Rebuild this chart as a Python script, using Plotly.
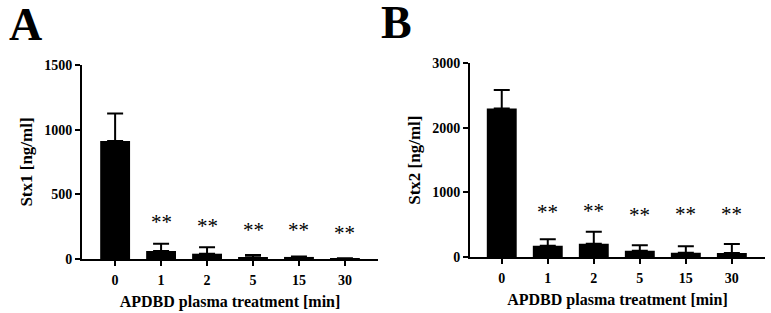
import plotly.graph_objects as go

categories = ["0", "1", "2", "5", "15", "30"]
stx1_mean = [912, 62, 41, 13, 16, 3]
stx1_sd = [214, 56, 49, 18, 4, 3]
stx1_sig = ["", "**", "**", "**", "**", "**"]
stx1_sig_y = [0, 300, 270, 240, 237, 215]

stx2_mean = [2300, 175, 206, 98, 67, 62]
stx2_sd = [286, 99, 186, 83, 98, 139]
stx2_sig = ["", "**", "**", "**", "**", "**"]
stx2_sig_y = [0, 728, 740, 680, 690, 690]

FONT = "Liberation Serif, Times New Roman, serif"
fig = go.Figure()

def add_panel(mean, sd, xa, ya):
    fig.add_trace(go.Bar(
        x=categories, y=mean, xaxis=xa, yaxis=ya, width=0.65,
        marker=dict(color="black", line=dict(width=0)),
        error_y=dict(type="data", symmetric=False, array=sd,
                     arrayminus=[0] * len(sd), color="black",
                     thickness=2, width=8),
        showlegend=False))

add_panel(stx1_mean, stx1_sd, "x", "y")
add_panel(stx2_mean, stx2_sd, "x2", "y2")

ax_common = dict(showline=True, linecolor="black", linewidth=2,
                 ticks="outside", ticklen=5, tickwidth=2, tickcolor="black",
                 showgrid=False, zeroline=False, automargin=False,
                 tickfont=dict(family=FONT, size=14, color="black", weight="bold"))

xt = dict(family=FONT, size=16, color="black", weight="bold")
yt = dict(family=FONT, size=17, color="black", weight="bold")

fig.update_layout(
    width=771, height=313, margin=dict(l=0, r=0, t=0, b=0, autoexpand=False),
    plot_bgcolor="white", paper_bgcolor="white",
    xaxis=dict(domain=[0.1064, 0.4903], type="category", range=[-0.72, 5.72],
               ticklabelstandoff=2,
               title=dict(text="APDBD plasma treatment [min]", standoff=9, font=xt),
               anchor="y", **ax_common),
    yaxis=dict(domain=[0.1725, 0.7923], range=[0, 1500], tickvals=[0, 500, 1000, 1500],
               title=dict(text="Stx1 [ng/ml]", standoff=7, font=yt),
               anchor="x", **ax_common),
    xaxis2=dict(domain=[0.6096, 0.9922], type="category", range=[-0.69, 5.72],
                ticklabelstandoff=2,
                title=dict(text="APDBD plasma treatment [min]", standoff=9, font=xt),
                anchor="y2", **ax_common),
    yaxis2=dict(domain=[0.1789, 0.7977], range=[0, 3000], tickvals=[0, 1000, 2000, 3000],
                title=dict(text="Stx2 [ng/ml]", standoff=7, font=yt),
                anchor="x2", **ax_common),
)

for sig, sy, xr, yr in [(stx1_sig, stx1_sig_y, "x", "y"),
                        (stx2_sig, stx2_sig_y, "x2", "y2")]:
    for i, (s, yv) in enumerate(zip(sig, sy)):
        if s:
            fig.add_annotation(x=i, y=yv, xref=xr, yref=yr, text=s, showarrow=False,
                               yanchor="middle", yshift=-2,
                               font=dict(family=FONT, size=21, color="black"))

fig.add_annotation(x=25 / 771, y=1 - 24 / 313, xref="paper", yref="paper", text="A",
                   showarrow=False, xanchor="center", yanchor="middle",
                   font=dict(family=FONT, size=46, color="black", weight="bold"))
fig.add_annotation(x=397 / 771, y=1 - 23 / 313, xref="paper", yref="paper", text="B",
                   showarrow=False, xanchor="center", yanchor="middle",
                   font=dict(family=FONT, size=46, color="black", weight="bold"))

fig.write_html("out.html", config={"displayModeBar": False},
               post_script="document.body.style.margin='0';document.body.style.padding='0';")
